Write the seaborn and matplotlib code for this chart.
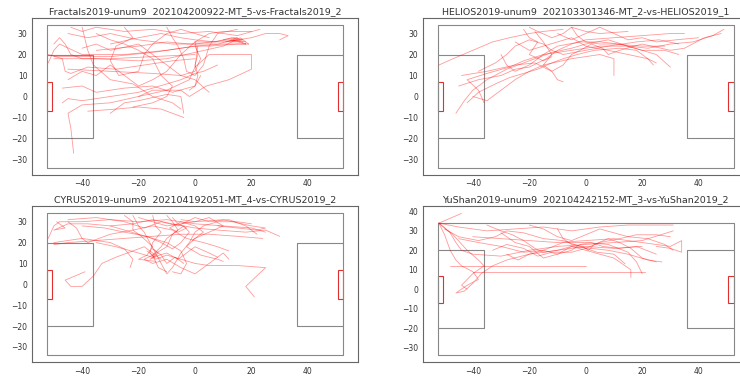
import matplotlib
matplotlib.use("Agg")
import matplotlib.pyplot as plt
import pandas as pd
import seaborn as sns
from matplotlib.patches import Rectangle

sns.set_style("white")
plt.rcParams['font.family'] = ['DejaVu Sans']

titles = [
    "Fractals2019-unum9  202104200922-MT_5-vs-Fractals2019_2",
    "HELIOS2019-unum9  202103301346-MT_2-vs-HELIOS2019_1",
    "CYRUS2019-unum9  202104192051-MT_4-vs-CYRUS2019_2",
    "YuShan2019-unum9  202104242152-MT_3-vs-YuShan2019_2",
]

# Field geometry (metres)
field_x = [-52.5, 52.5, 52.5, -52.5, -52.5]
field_y = [-34, -34, 34, 34, -34]
penalty_x = [-52.5, -36, -36, -52.5]
penalty_y = [20, 20, -20, -20]
goal_half_width = 7.0
goal_depth = 2.0

# Trajectories: lists of (x, y) points
fractals_paths = [
    [(-52, 16), (-50, 22), (-48, 25), (-40, 20), (-25, 20), (-10, 22), (0, 24), (10, 25), (18, 25)],
    [(-45, 30), (-38, 28), (-30, 30), (-20, 27), (-8, 25), (0, 25), (12, 27), (17, 26)],
    [(-44, 33), (-40, 31), (-35, 33), (-25, 31), (-15, 32), (-5, 30), (5, 31), (15, 29), (23, 32)],
    [(-50, 18), (-35, 18), (-20, 17), (-10, 18), (0, 21), (10, 24), (16, 28), (19, 25)],
    [(-45, 13), (-30, 12), (-15, 11), (-5, 10), (0, 12), (2, 18), (0, 24)],
    [(-43, -27), (-44, -15), (-45, -8), (-40, -4), (-30, -3), (-20, 0), (-10, 3), (-2, 8), (0, 14), (1, 24)],
    [(-47, 4), (-40, 5), (-35, 2), (-25, 4), (-15, 5), (-8, 2), (0, 5), (2, 10)],
    [(-38, -7), (-28, -6), (-20, -5), (-12, -6), (-4, -10)],
    [(-30, -8), (-25, -3), (-20, -2), (-10, 1), (-5, 0), (-4, -8)],
    [(0, 14), (5, 20), (12, 20), (20, 20), (20, 13), (12, 8), (4, 5), (-2, 0), (-5, 3), (-15, 3), (-20, 0)],
    [(-40, 23), (-35, 25), (-30, 22), (-20, 25), (-15, 20), (-10, 15), (-5, 10), (0, 8), (5, 2)],
    [(-35, 30), (-30, 27), (-25, 25), (-20, 22), (-15, 18), (-12, 10), (-8, 5), (-10, 0), (-15, -3), (-22, -5)],
    [(-45, 8), (-40, 12), (-35, 10), (-30, 15), (-25, 10), (-20, 5), (-15, 8), (-10, 12), (-5, 20), (0, 26),
     (5, 30), (10, 31), (20, 31)],
    [(10, 27), (14, 28), (17, 27), (12, 26), (16, 26), (18, 25), (13, 27), (15, 28), (11, 26)],
    [(0, 26), (10, 26), (20, 28), (25, 30), (30, 30), (33, 29), (30, 27)],
    [(-52, 20), (-47, 18), (-46, 12), (-44, 11), (-38, 14), (-28, 13), (-18, 15), (-8, 17), (0, 18)],
    [(-40, 33), (-38, 22), (-36, 15), (-30, 8), (-22, 6), (-15, 0), (-8, -3), (-5, -6)],
    [(-25, 33), (-22, 28), (-28, 24), (-30, 17), (-27, 10), (-20, 12), (-18, 20), (-15, 25), (-10, 30),
     (-5, 32), (0, 30), (5, 28)],
    [(-10, 33), (-8, 28), (-6, 24), (-4, 18), (-3, 12), (0, 10), (3, 15), (5, 24), (8, 30), (15, 32)],
    [(-50, 25), (-48, 28), (-46, 25), (-44, 20), (-40, 18), (-30, 18), (-15, 19), (0, 20)],
    [(-47, -3), (-45, -1), (-40, -2), (-30, 0), (-20, 2), (-10, 6), (-5, 8), (0, 11), (3, 12), (8, 15)],
    [(-50, 19), (-30, 19), (-15, 21), (-5, 23), (0, 24), (5, 24), (15, 25), (19, 25)],
    [(0, 26), (1, 20), (0, 15), (1, 10), (0, 5), (-2, 3)],
    [(-35, 22), (-20, 24), (-10, 26), (-2, 25), (8, 25), (14, 27), (18, 26)],
    [(-30, 25), (-20, 28), (-12, 30), (-5, 28), (0, 27), (7, 26), (13, 28), (16, 27)],
]

helios_paths = [
    [(-46, -8), (-43, -2), (-40, 3), (-35, 8), (-28, 13), (-20, 17), (-12, 21), (-5, 23), (0, 25), (8, 27),
     (15, 24), (22, 23), (30, 25), (38, 26), (45, 29), (49, 32)],
    [(-52, 15), (-47, 18), (-40, 22), (-33, 26), (-27, 28), (-20, 30), (-15, 31), (-8, 32)],
    [(-36, -3), (-38, 3), (-42, 8), (-35, 11), (-27, 14), (-22, 17), (-15, 20), (-5, 22), (5, 24), (15, 24),
     (25, 20), (30, 14)],
    [(-45, 5), (-38, 8), (-30, 10), (-25, 13), (-20, 14), (-14, 18), (-10, 22), (-5, 25), (0, 27), (10, 28),
     (20, 29), (30, 30), (35, 30)],
    [(-44, 10), (-35, 12), (-25, 15), (-18, 16), (-12, 12), (-10, 8), (-8, 7)],
    [(-40, 0), (-35, -2), (-30, 3), (-25, 8), (-20, 12), (-15, 15), (-5, 18), (5, 20), (10, 18), (10, 10)],
    [(-20, 33), (-17, 31), (-12, 28), (-8, 30), (-5, 33), (0, 31), (5, 30), (15, 31)],
    [(-25, 26), (-20, 22), (-15, 24), (-10, 26), (-5, 28), (0, 24), (8, 22), (15, 20), (22, 18), (25, 16)],
    [(-30, 20), (-28, 15), (-25, 12), (-20, 15), (-15, 20), (-10, 24), (-2, 26), (5, 26), (12, 25), (20, 22),
     (28, 22), (33, 20)],
    [(-38, 12), (-32, 16), (-28, 20), (-25, 24), (-20, 27), (-15, 25), (-12, 22), (-8, 20), (0, 22), (8, 24),
     (18, 26), (26, 27), (33, 25)],
    [(-18, 31), (-15, 26), (-12, 20), (-15, 15), (-12, 12), (-8, 15), (-5, 20), (-2, 22), (2, 25), (6, 23),
     (8, 20), (12, 22), (20, 25), (30, 22), (35, 23), (42, 28), (48, 30)],
    [(-42, -3), (-38, 2), (-32, 6), (-27, 9), (-22, 11), (-17, 13), (-12, 16), (-8, 18), (-3, 20), (3, 22),
     (12, 23), (18, 22), (22, 18), (24, 15)],
    [(-5, 33), (-3, 29), (0, 26), (5, 25), (10, 25), (20, 24), (28, 24)],
    [(-22, 32), (-20, 28), (-17, 26), (-20, 20), (-15, 17), (-12, 19)],
    [(-10, 30), (-5, 27), (0, 30), (5, 33), (10, 30), (15, 27), (20, 28), (25, 26), (32, 27), (40, 28)],
]

cyrus_paths = [
    [(-52, 22), (-50, 28), (-48, 30), (-40, 30), (-30, 31), (-20, 30), (-10, 31), (0, 29), (10, 28), (20, 27),
     (25, 25)],
    [(-50, 19), (-45, 20), (-35, 21), (-25, 22), (-15, 23), (-5, 24), (5, 24), (15, 23), (24, 22)],
    [(-49, 30), (-46, 27), (-50, 26), (-45, 29), (-38, 29), (-30, 28), (-22, 29), (-15, 31), (-8, 29), (0, 27),
     (8, 26), (18, 25), (25, 26), (30, 23)],
    [(-39, 6), (-46, 2), (-44, -1), (-40, -1), (-36, 4), (-33, 10), (-28, 13), (-22, 16), (-18, 18), (-15, 15),
     (-12, 12)],
    [(-15, 33), (-14, 28), (-12, 25), (-15, 20), (-16, 15), (-14, 12), (-10, 14), (-5, 12), (0, 10), (5, 9),
     (15, 9), (25, 8), (18, -1), (21, -6)],
    [(-22, 33), (-20, 28), (-18, 25), (-16, 20), (-14, 15), (-12, 10), (-10, 5), (-8, 8), (-5, 15), (-2, 20),
     (0, 25), (3, 28), (8, 30), (15, 30), (20, 29)],
    [(-30, 28), (-25, 26), (-20, 24), (-15, 22), (-10, 20), (-5, 16), (-3, 10), (-5, 5), (-8, 6)],
    [(-50, 20), (-40, 22), (-30, 20), (-25, 17), (-22, 12), (-23, 8)],
    [(-20, 32), (-15, 30), (-10, 28), (-5, 29), (0, 30), (5, 32), (10, 28), (5, 25), (0, 22), (-3, 18), (2, 14),
     (8, 12), (10, 11)],
    [(-10, 33), (-8, 30), (-6, 26), (-10, 22), (-12, 18), (-15, 14), (-18, 12), (-15, 10), (-10, 12), (-5, 8),
     (0, 5), (5, 10), (10, 15), (12, 12)],
    [(-45, 31), (-35, 32), (-25, 30), (-18, 27), (-12, 30), (-6, 28), (0, 32), (5, 30), (12, 31), (18, 28),
     (22, 24)],
    [(-40, 28), (-32, 27), (-25, 25), (-17, 23), (-12, 20), (-8, 17), (-5, 20), (-2, 25), (-4, 28), (-8, 24),
     (-10, 18), (-15, 14), (-13, 8), (-10, 6)],
    [(-35, 20), (-28, 18), (-20, 15), (-15, 13), (-10, 15), (-6, 12), (-3, 15), (0, 18), (5, 15), (8, 13)],
    [(-45, 30), (-42, 27), (-40, 22), (-38, 20), (-30, 24), (-22, 26), (-15, 28), (-8, 26), (-3, 22), (3, 20),
     (8, 18), (12, 16)],
    [(-25, 33), (-22, 30), (-22, 26), (-19, 23), (-15, 18), (-17, 14), (-20, 12), (-14, 11)],
    [(-5, 31), (0, 30), (10, 31), (20, 28), (25, 27), (22, 26), (15, 27), (8, 28)],
    [(-17, 16), (-14, 13), (-16, 12), (-13, 15), (-15, 17), (-12, 14), (-10, 10), (-7, 13), (-4, 10)],
    [(-8, 32), (-6, 29), (-3, 27), (-6, 25), (-9, 27), (-5, 30), (0, 28), (3, 25), (-1, 21)],
]

yushan_paths = [
    [(-52, 34), (-44, 39)],
    [(-52, 34), (-50, 28), (-48, 20), (-46, 15), (-44, 12), (-40, 9), (-38, 5), (-42, 2), (-46, -2), (-43, -1),
     (-40, 3), (-37, 8), (-33, 12), (-28, 15), (-20, 18), (-10, 20), (0, 22), (10, 21), (20, 22)],
    [(-52, 34), (-45, 32), (-35, 30), (-25, 31), (-15, 32), (-5, 30), (5, 32), (15, 33), (25, 33), (31, 33)],
    [(-52, 34), (-48, 29), (-46, 24), (-44, 20), (-40, 18), (-30, 17), (-20, 20), (-10, 22), (0, 23), (10, 24),
     (20, 25), (31, 30)],
    [(-48, 12), (-40, 12), (-30, 12), (-20, 12), (-10, 12), (0, 12)],
    [(-40, 9), (-30, 9), (-20, 9), (-10, 9), (0, 9), (10, 9), (21, 9)],
    [(-52, 34), (-47, 28), (-42, 20), (-38, 15), (-36, 12), (-40, 8), (-44, 2), (-42, 0)],
    [(-40, 27), (-30, 26), (-20, 25), (-10, 24), (0, 25), (10, 26), (20, 24), (30, 22), (34, 25), (34, 19),
     (30, 21), (25, 22)],
    [(-30, 29), (-25, 24), (-20, 22), (-15, 16), (-10, 18), (-5, 22), (0, 20), (5, 18), (10, 16), (16, 10),
     (16, 6)],
    [(-45, 26), (-38, 24), (-30, 22), (-22, 19), (-15, 20), (-8, 24), (0, 24), (8, 23), (15, 19), (18, 14),
     (20, 8)],
    [(-35, 33), (-30, 30), (-26, 28), (-22, 25), (-18, 21), (-15, 19), (-10, 20), (-5, 22), (2, 21), (8, 20),
     (15, 18), (22, 15), (27, 14)],
    [(-20, 33), (-15, 31), (-10, 27), (-5, 25), (0, 28), (5, 31), (10, 29), (15, 27), (22, 26), (28, 23),
     (31, 20)],
    [(-28, 18), (-24, 15), (-20, 18), (-15, 20), (-10, 18), (-5, 20), (-2, 23), (2, 24), (6, 22), (12, 21),
     (18, 22), (25, 18)],
    [(-10, 31), (-8, 26), (-5, 23), (-1, 22), (1, 20), (3, 23), (8, 26), (12, 24), (16, 21), (20, 16), (25, 14)],
    [(-33, 20), (-28, 23), (-22, 21), (-17, 17), (-12, 19), (-5, 19), (0, 21), (5, 24), (12, 26), (18, 28),
     (25, 28), (30, 27)],
    [(-50, 31), (-45, 27), (-38, 25), (-32, 27), (-28, 30), (-22, 29), (-15, 26), (-8, 25), (-2, 22), (4, 19),
     (10, 18), (14, 13)],
]

all_paths = [fractals_paths, helios_paths, cyrus_paths, yushan_paths]


def paths_to_frame(paths):
    rows = []
    for i, path in enumerate(paths):
        for x, y in path:
            rows.append({"traj": i, "x": x, "y": y})
    return pd.DataFrame(rows)


W, H = 740, 376
fig = plt.figure(figsize=(W / 100, H / 100), dpi=100)

# axes boxes in pixels: (left, top, width, height)
boxes = [(32, 18, 326, 157), (422.7, 18, 326, 157), (32, 206.3, 326, 156), (422.7, 206.3, 326, 156)]

for box, title, paths in zip(boxes, titles, all_paths):
    l, t, w, h = box
    ax = fig.add_axes([l / W, 1 - (t + h) / H, w / W, h / H])
    ax.plot(field_x, field_y, color="#888888", lw=0.8)
    ax.plot(penalty_x, penalty_y, color="#888888", lw=0.8)
    ax.plot([-v for v in penalty_x], penalty_y, color="#888888", lw=0.8)
    ax.add_patch(Rectangle((-52.5, -goal_half_width), goal_depth, 2 * goal_half_width,
                           fill=False, edgecolor="#e03030", lw=0.8))
    ax.add_patch(Rectangle((52.5 - goal_depth, -goal_half_width), goal_depth, 2 * goal_half_width,
                           fill=False, edgecolor="#e03030", lw=0.8))
    df = paths_to_frame(paths)
    sns.lineplot(data=df, x="x", y="y", units="traj", estimator=None, sort=False,
                 color="red", lw=0.6, alpha=0.4, ax=ax, legend=False)
    ax.set_xlabel("")
    ax.set_ylabel("")
    ax.set_xticks([-40, -20, 0, 20, 40])
    ax.tick_params(labelsize=5.5, length=2, pad=1.2, color="#555555", labelcolor="#333333")
    for sp in ax.spines.values():
        sp.set_color("#666666")
        sp.set_linewidth(0.8)
    ax.set_title(title, fontsize=6.8, pad=3, color="#333333")

fig.savefig("out.png", dpi=100)
